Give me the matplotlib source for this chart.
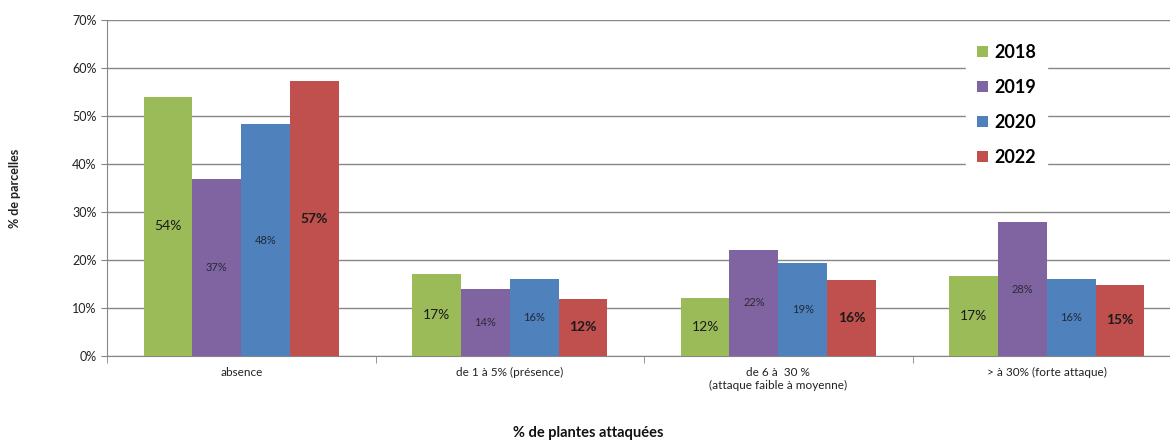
import matplotlib.pyplot as plt
import numpy as np
from matplotlib.patches import Patch
from matplotlib.ticker import FuncFormatter

plt.rcParams["font.family"] = ["Lato", "DejaVu Sans"]

categories = ["absence", "de 1 à 5% (présence)",
              "de 6 à  30 %\n(attaque faible à moyenne)", "> à 30% (forte attaque)"]
years = ["2018", "2019", "2020", "2022"]
v2018 = [54.0, 17.0, 12.0, 16.7]
v2019 = [36.9, 14.0, 22.1, 27.9]
v2020 = [48.3, 16.0, 19.3, 16.0]
v2022 = [57.2, 11.9, 15.8, 14.8]
labels2018 = ["54%", "17%", "12%", "17%"]
labels2019 = ["37%", "14%", "22%", "28%"]
labels2020 = ["48%", "16%", "19%", "16%"]
labels2022 = ["57%", "12%", "16%", "15%"]

colors = ["#9BBB59", "#8064A2", "#4F81BD", "#C0504D"]
series = [v2018, v2019, v2020, v2022]
label_sets = [labels2018, labels2019, labels2020, labels2022]
# label styles per series: (fontsize, weight, color)
label_styles = [(10, "normal", "#1a1a1a"), (8, "normal", "#2a2a3a"),
                (8, "normal", "#1f2a3a"), (10, "bold", "#1a1a1a")]

fig = plt.figure(figsize=(11.7, 4.41), dpi=100)
ax = fig.add_axes([107 / 1170, (441 - 356) / 441, (1170 - 107) / 1170, 336 / 441])

x = np.arange(len(categories))
w = 0.727 / 4
for i, (vals, col) in enumerate(zip(series, colors)):
    pos = x + (i - 1.5) * w
    ax.bar(pos, vals, width=w, color=col, zorder=3)
    fs, fw, fc = label_styles[i]
    for p, v, lab in zip(pos, vals, label_sets[i]):
        ax.text(p, v / 2, lab, ha="center", va="center", fontsize=fs,
                fontweight=fw, color=fc, zorder=4)

ax.set_ylim(0, 70)
ax.set_yticks(range(0, 71, 10))
ax.yaxis.set_major_formatter(FuncFormatter(lambda v, _: f"{v:.0f}%"))
ax.set_xticks(x)
ax.set_xticklabels(categories, fontsize=8.5, color="#222222")
ax.set_xticks(np.arange(-0.5, 3.5, 1), minor=True)
# the last category runs past the right edge of the picture
ax.set_xlim(-0.5, 3.5 - 11 / 268)
ax.tick_params(axis="x", which="major", length=0, pad=8)
ax.tick_params(axis="x", which="minor", length=5, color="#868686")
ax.tick_params(axis="y", length=4, color="#868686", labelsize=9, labelcolor="#222222")
ax.grid(axis="y", color="#868686", linewidth=1, zorder=0)

for s in ["right", "top"]:
    ax.spines[s].set_visible(False)
for s in ["left", "bottom"]:
    ax.spines[s].set_color("#868686")

handles = [Patch(facecolor=c, edgecolor="none") for c in colors]
leg = ax.legend(handles, years, loc="upper left",
                bbox_to_anchor=(957 / 1170, (441 - 24) / 441),
                bbox_transform=fig.transFigure,
                prop={"size": 13, "weight": "bold"},
                handlelength=0.6, handleheight=0.6, handletextpad=0.35,
                labelspacing=1.0, borderpad=0.6,
                frameon=True, fancybox=False)
leg.get_frame().set_facecolor("white")
leg.get_frame().set_edgecolor("white")
leg.get_frame().set_alpha(1)
leg.set_zorder(5)

fig.text(15 / 1170, (441 - 188) / 441, "% de parcelles", rotation=90,
         ha="center", va="center", fontsize=9, fontweight="bold", color="#222222")
fig.text(588 / 1170, (441 - 433) / 441, "% de plantes attaquées",
         ha="center", va="center", fontsize=10.5, fontweight="bold", color="#111111")

fig.savefig("out.png", dpi=100)
